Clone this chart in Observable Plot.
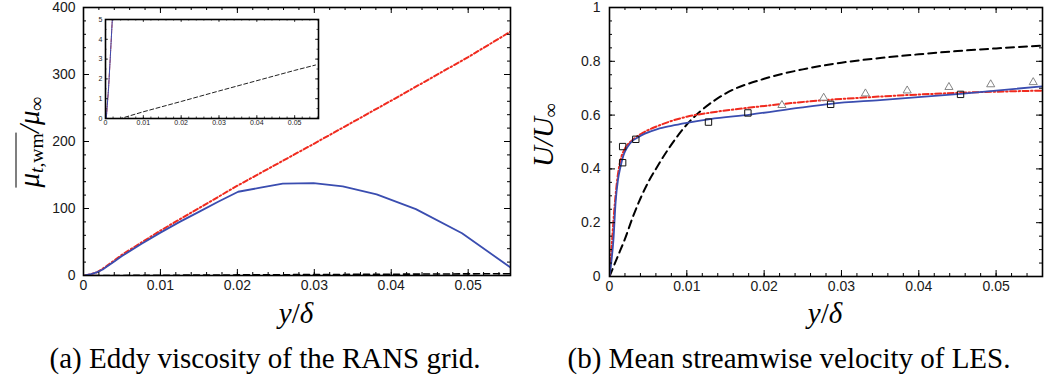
<!DOCTYPE html>
<html><head><meta charset="utf-8">
<script src="https://cdn.jsdelivr.net/npm/d3@7"></script>
<script src="https://cdn.jsdelivr.net/npm/@observablehq/plot@0.6"></script>
<style>
body{margin:0;background:#fff;}
#wrap{position:relative;width:1044px;height:383px;overflow:hidden;background:#fff;}
.abs{position:absolute;}
.lab{font-family:"Liberation Serif",serif;font-style:italic;font-size:29px;white-space:nowrap;line-height:1;}
.lab sub{font-size:68%;vertical-align:-0.25em;line-height:0;}
.up{font-style:normal;}
.ol{display:inline-block;border-top:1.6px solid #000;padding-top:0px;line-height:0.85;}
.cap{font-family:"Liberation Serif",serif;font-size:29px;white-space:nowrap;line-height:1;}
</style></head><body><div id="wrap"></div>
<script>
// ---------- Panel (a): eddy viscosity ----------
const aBlueX = [0.0002,0.0008,0.0013,0.0018,0.0025,0.003,0.004,0.005,0.0075,0.01,0.0125,0.015,0.0175,0.0201,0.023,0.0259,0.0299,0.0337,0.0381,0.0432,0.0492,0.0555];
const aBlueY = [0,1.5,3.2,5,9,13,21,29,47,64,80,95,110,125,131,137,138,133,121,99,63,12];
const aRedX  = [0.0002,0.0008,0.0013,0.0018,0.003,0.005,0.0075,0.01,0.02,0.03,0.04,0.05,0.0555];
const aRedY  = [0,1.5,3.2,5,14,31,49,67,134,197,261,326,364];
const aBlackX = [0,0.004,0.01,0.02,0.03,0.04,0.05,0.0555];
const aBlackY = [0,0,0.34,0.86,1.39,1.91,2.43,2.7];
const aXTicks = [0,0.01,0.02,0.03,0.04,0.05];
const aYTicks = [0,100,200,300,400];
const insetYTicks = [0,1,2,3,4,5];

// ---------- Panel (b): mean streamwise velocity ----------
const bBlueX = [0,0.0003,0.0005,0.0008,0.0011,0.0014,0.0018,0.0023,0.003,0.0036,0.0045,0.0062,0.008,0.01,0.013,0.0182,0.0247,0.0286,0.035,0.0454,0.056];
const bBlueY = [0,0.07,0.133,0.28,0.36,0.405,0.45,0.48,0.505,0.516,0.53,0.548,0.56,0.571,0.585,0.602,0.628,0.642,0.656,0.679,0.707];
const bRedX  = [0,0.0003,0.0006,0.001,0.0014,0.002,0.0031,0.0045,0.0062,0.008,0.01,0.013,0.0182,0.0247,0.035,0.0454,0.056];
const bRedY  = [0,0.12,0.24,0.36,0.43,0.475,0.51,0.537,0.559,0.578,0.594,0.609,0.628,0.648,0.669,0.683,0.691];
const bBlackX = [0,0.001,0.002,0.003,0.004,0.005,0.006,0.008,0.01,0.012,0.015,0.02,0.025,0.03,0.035,0.04,0.045,0.05,0.056];
const bBlackY = [0,0.07,0.14,0.22,0.29,0.35,0.40,0.49,0.565,0.62,0.68,0.735,0.77,0.795,0.812,0.826,0.838,0.848,0.858];
const bSquareX = [0.0017,0.0017,0.0034,0.0128,0.0179,0.0286,0.0454];
const bSquareY = [0.483,0.423,0.51,0.574,0.608,0.64,0.677];
const bTriX = [0.0223,0.0277,0.0331,0.0385,0.0439,0.0493,0.0548];
const bTriY = [0.637,0.664,0.68,0.691,0.704,0.714,0.722];
const bXTicks = [0,0.01,0.02,0.03,0.04,0.05];
const bYTicks = [0,0.2,0.4,0.6,0.8,1];

const BLUE = "#3a4db0", RED = "#f02a1e";
const zip = (xs, ys) => xs.map((x, i) => ({x, y: ys[i]}));

function frameTicks(o) {
  const iw = o.width - o.ml - o.mr, ih = o.height - o.mt - o.mb;
  const sw = o.tickWidth ?? 1;
  const m = [];
  const add = (vals, len, kind) => {
    if (kind === "x") {
      m.push(Plot.ruleX(vals, {x: d => d, insetTop: ih - len, stroke: "black", strokeWidth: sw}));
      m.push(Plot.ruleX(vals, {x: d => d, insetBottom: ih - len, stroke: "black", strokeWidth: sw}));
    } else {
      m.push(Plot.ruleY(vals, {y: d => d, insetRight: iw - len, stroke: "black", strokeWidth: sw}));
      m.push(Plot.ruleY(vals, {y: d => d, insetLeft: iw - len, stroke: "black", strokeWidth: sw}));
    }
  };
  add(o.xMinor, o.minorLen, "x");
  add(o.xMajor, o.majorLen, "x");
  add(o.yMinor, o.minorLen, "y");
  add(o.yMajor, o.majorLen, "y");
  return m;
}

function panel(o) {
  const marks = [
    ...o.marks,
    ...frameTicks(o),
    Plot.frame({stroke: "black", strokeWidth: o.frameWidth ?? 1.6}),
    Plot.axisX(o.xMajor, {tickSize: 0, tickPadding: o.padX, tickFormat: o.xFmt, fill: "#1a1a1a"}),
    Plot.axisY(o.yMajor, {tickSize: 0, tickPadding: o.padY, tickFormat: o.yFmt, fill: "#1a1a1a"})
  ];
  return Plot.plot({
    width: o.width, height: o.height,
    marginLeft: o.ml, marginRight: o.mr, marginTop: o.mt, marginBottom: o.mb,
    x: {domain: o.xDomain, label: null},
    y: {domain: o.yDomain, label: null},
    style: {fontFamily: "'Liberation Sans', Arial, sans-serif", fontSize: o.fontSize + "px", background: o.bg ?? "transparent", overflow: "visible"},
    marks
  });
}

const fmt = d => d === 0 ? "0" : d3.format("~g")(d);
const wrap = document.getElementById("wrap");
function place(el, left, top) { el.style.position = "absolute"; el.style.left = left + "px"; el.style.top = top + "px"; wrap.appendChild(el); }

// Panel (a)
const pa = panel({
  width: 522, height: 300, ml: 83, mr: 12, mt: 7, mb: 25,
  xDomain: [0, 0.0555], yDomain: [0, 400],
  xMajor: aXTicks, xMinor: d3.range(0, 0.0555, 0.002),
  yMajor: aYTicks, yMinor: d3.range(0, 400, 20),
  majorLen: 6, minorLen: 3, fontSize: 14, padX: 5, padY: 8, xFmt: fmt, yFmt: fmt,
  marks: [
    Plot.line(zip(aBlackX, aBlackY), {x: "x", y: "y", stroke: "black", strokeWidth: 1.6, strokeDasharray: "6,4", clip: true}),
    Plot.line(zip(aRedX, aRedY), {x: "x", y: "y", stroke: RED, strokeWidth: 2, strokeDasharray: "5,2.5,1.5,2.5", clip: true}),
    Plot.line(zip(aBlueX, aBlueY), {x: "x", y: "y", stroke: BLUE, strokeWidth: 1.8, clip: true})
  ]
});
place(pa, 0, 0);

// Inset of panel (a)
const pi = panel({
  width: 230, height: 114, ml: 13, mr: 4, mt: 3, mb: 12,
  xDomain: [0, 0.0563], yDomain: [0, 5], bg: "white",
  xMajor: aXTicks, xMinor: d3.range(0, 0.0563, 0.002),
  yMajor: insetYTicks, yMinor: d3.range(0, 5, 0.5),
  majorLen: 3, minorLen: 1.5, fontSize: 7, padX: 2, padY: 3, xFmt: fmt, yFmt: fmt,
  frameWidth: 1.6, tickWidth: 0.7,
  marks: [
    Plot.line(zip(aBlackX, aBlackY), {x: "x", y: "y", stroke: "#222", strokeWidth: 1, strokeDasharray: "4,2.5", clip: true}),
    Plot.line(zip(aRedX, aRedY), {x: "x", y: "y", stroke: RED, strokeWidth: 1, strokeDasharray: "3,1.5,1,1.5", clip: true}),
    Plot.line(zip(aBlueX, aBlueY), {x: "x", y: "y", stroke: BLUE, strokeWidth: 1, clip: true})
  ]
});
place(pi, 92, 16);

// Panel (b)
const pb = panel({
  width: 522, height: 300, ml: 87, mr: 2, mt: 7, mb: 24,
  xDomain: [0, 0.056], yDomain: [0, 1],
  xMajor: bXTicks, xMinor: d3.range(0, 0.056, 0.002),
  yMajor: bYTicks, yMinor: d3.range(0, 1, 0.05),
  majorLen: 6, minorLen: 3, fontSize: 14, padX: 5, padY: 9, xFmt: fmt, yFmt: fmt,
  marks: [
    Plot.line(zip(bBlackX, bBlackY), {x: "x", y: "y", stroke: "black", strokeWidth: 2, strokeDasharray: "8,5", curve: "monotone-x", clip: true}),
    Plot.line(zip(bRedX, bRedY), {x: "x", y: "y", stroke: RED, strokeWidth: 2, strokeDasharray: "6,2.5,1.5,2.5", curve: "monotone-x", clip: true}),
    Plot.line(zip(bBlueX, bBlueY), {x: "x", y: "y", stroke: BLUE, strokeWidth: 1.8, curve: "monotone-x", clip: true}),
    Plot.dot(zip(bSquareX, bSquareY), {x: "x", y: "y", symbol: "square", r: 3.6, stroke: "#111", strokeWidth: 1, fill: "none"}),
    Plot.dot(zip(bTriX, bTriY), {x: "x", y: "y", symbol: "triangle", r: 3, stroke: "#777", strokeWidth: 0.9, fill: "white"})
  ]
});
place(pb, 522, 0);

// Axis titles and captions (HTML text)
function html(cls, inner, css) { const d = document.createElement("div"); d.className = "abs " + cls; d.innerHTML = inner; d.style.cssText += css; wrap.appendChild(d); return d; }
html("lab", '<span class="ol">μ<sub><i>t</i><span class="up">,wm</span></sub></span>/μ<sub>∞</sub>',
  "left:29px;top:142px;transform:translate(-50%,-50%) rotate(-90deg);");
html("lab", 'U/U<sub>∞</sub>', "left:543px;top:135px;transform:translate(-50%,-50%) rotate(-90deg);");
html("lab", 'y<span class="up">/</span>δ', "left:296px;top:313px;transform:translate(-50%,-50%);");
html("lab", 'y<span class="up">/</span>δ', "left:825px;top:313px;transform:translate(-50%,-50%);");
html("cap", "(a) Eddy viscosity of the RANS grid.", "left:265px;top:358px;transform:translate(-50%,-50%);");
html("cap", "(b) Mean streamwise velocity of LES.", "left:789px;top:358px;transform:translate(-50%,-50%);");
</script></body></html>
